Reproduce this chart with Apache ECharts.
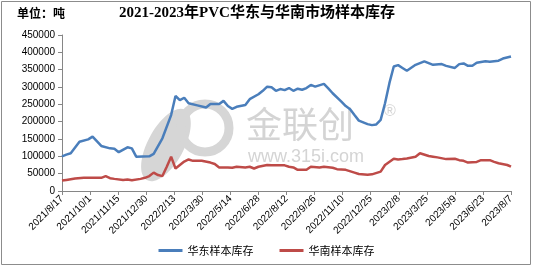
<!DOCTYPE html>
<html><head><meta charset="utf-8">
<script src="https://cdn.jsdelivr.net/npm/echarts@6/dist/echarts.min.js"></script>
<style>html,body{margin:0;padding:0;background:#fff}#c{width:533px;height:269px}</style>
</head><body><div id="c"></div>
<script>
const seriesNames = ['华东样本库存', '华南样本库存'];
const eastDates = ['2021-08-17','2021-08-24','2021-08-31','2021-09-14','2021-09-28','2021-10-05','2021-10-19','2021-11-02','2021-11-09','2021-11-16','2021-11-30','2021-12-07','2021-12-14','2022-01-04','2022-01-11','2022-01-25','2022-02-08','2022-02-15','2022-02-22','2022-03-01','2022-03-08','2022-03-22','2022-04-05','2022-04-12','2022-04-26','2022-05-03','2022-05-10','2022-05-17','2022-05-24','2022-06-07','2022-06-14','2022-06-28','2022-07-05','2022-07-12','2022-07-19','2022-07-26','2022-08-02','2022-08-09','2022-08-16','2022-08-23','2022-08-30','2022-09-06','2022-09-13','2022-09-20','2022-09-27','2022-10-11','2022-10-18','2022-10-25','2022-11-08','2022-11-15','2022-11-22','2022-11-29','2022-12-06','2022-12-20','2022-12-27','2023-01-03','2023-01-10','2023-01-17','2023-01-24','2023-01-31','2023-02-07','2023-02-14','2023-02-21','2023-03-07','2023-03-21','2023-04-04','2023-04-18','2023-04-25','2023-05-09','2023-05-16','2023-05-23','2023-05-30','2023-06-06','2023-06-13','2023-06-27','2023-07-04','2023-07-18','2023-07-25','2023-08-07'];
const eastValues = [100000,105000,109000,142000,149000,157000,130000,123000,122000,112000,126000,123000,99000,100000,107000,152000,219000,274000,262000,269000,253000,247000,241000,251000,251000,260000,245000,237000,243000,248000,265000,279000,289000,301000,299000,289000,294000,291000,297000,289000,295000,292000,297000,306000,301000,309000,296000,282000,258000,245000,236000,219000,203000,193000,190000,192000,205000,253000,311000,359000,363000,355000,347000,364000,374000,364000,366000,361000,355000,366000,368000,361000,361000,370000,374000,373000,376000,382000,388000];
const southDates = ['2021-08-17','2021-08-24','2021-09-07','2021-09-21','2021-10-05','2021-10-19','2021-10-26','2021-11-02','2021-11-09','2021-11-23','2021-11-30','2021-12-07','2021-12-21','2021-12-28','2022-01-04','2022-01-11','2022-01-18','2022-01-25','2022-02-01','2022-02-08','2022-02-15','2022-02-22','2022-03-01','2022-03-08','2022-03-15','2022-03-29','2022-04-12','2022-04-19','2022-04-26','2022-05-10','2022-05-17','2022-05-24','2022-06-07','2022-06-14','2022-06-21','2022-06-28','2022-07-12','2022-07-19','2022-08-02','2022-08-09','2022-08-16','2022-08-23','2022-08-30','2022-09-13','2022-09-20','2022-10-04','2022-10-11','2022-10-25','2022-11-01','2022-11-15','2022-11-29','2022-12-06','2022-12-20','2022-12-27','2023-01-10','2023-01-17','2023-01-31','2023-02-07','2023-02-14','2023-02-21','2023-03-07','2023-03-14','2023-03-28','2023-04-04','2023-04-11','2023-04-25','2023-05-09','2023-05-16','2023-05-23','2023-05-30','2023-06-13','2023-06-20','2023-07-04','2023-07-11','2023-07-18','2023-08-01','2023-08-07'];
const southValues = [30000,32000,36000,38000,38000,38000,43000,37000,35000,32000,33000,31000,35000,38000,43000,53000,46000,43000,70000,99000,65000,75000,85000,91000,87000,87000,82000,78000,68000,68000,67000,70000,68000,70000,65000,70000,75000,74000,74000,74000,70000,68000,61000,61000,70000,68000,70000,67000,63000,61000,53000,49000,47000,48000,56000,75000,93000,91000,92000,94000,99000,109000,101000,99000,97000,92000,93000,89000,87000,82000,84000,89000,89000,84000,80000,75000,70000];
const startDate = '2021-08-17';
const endDate = '2023-08-07';
const yMax = 450000, yStep = 50000, xStepDays = 45;

function toUTC(s){const p=s.split('-').map(Number);return Date.UTC(p[0],p[1]-1,p[2]);}
const t0 = toUTC(startDate);
const dayOf = s => Math.round((toUTC(s)-t0)/86400000);
function dayLabel(d){const dt=new Date(t0+d*86400000);return dt.getUTCFullYear()+'/'+(dt.getUTCMonth()+1)+'/'+dt.getUTCDate();}

const chart = echarts.init(document.getElementById('c'), null, {renderer:'canvas'});
const cjk = "'Noto Sans CJK SC', 'Noto Sans', sans-serif";
chart.setOption({
  animation:false,
  backgroundColor:'#fff',
  graphic:[
    {type:'rect', shape:{x:1.5,y:1.5,width:529,height:263}, style:{fill:'none',stroke:'#8c8c8c',lineWidth:1}, z:0},
    {type:'ellipse', shape:{cx:166,cy:145,rx:18,ry:40}, rotation:-0.5, originX:166, originY:145, style:{fill:'#d6d6d6'}, z:0},
    {type:'circle', shape:{cx:205,cy:128,r:24}, style:{fill:'none',stroke:'#d6d6d6',lineWidth:9}, z:0},
    {type:'text', x:246, y:106, style:{text:'金联创', font:"36px "+cjk, fill:'#d4d4d4'}, z:0},
    {type:'text', x:384, y:104, style:{text:'®', font:"16px 'Liberation Sans', sans-serif", fill:'#d4d4d4'}, z:0},
    {type:'text', x:248, y:148, style:{text:'www.315i.com', font:"18px 'Liberation Sans', sans-serif", fill:'#d4d4d4'}, z:0},
    {type:'text', x:17, y:7, style:{text:'单位：吨', font:"bold 12px "+cjk, fill:'#000'}, z:5},
    {type:'text', x:257, y:6, style:{text:'2021-2023年PVC华东与华南市场样本库存', font:"bold 15px 'Liberation Serif', "+cjk, fill:'#000', align:'center'}, z:5}
  ],
  grid:{left:62, right:22, top:35, bottom:78},
  legend:{
    bottom:8, left:'center', itemGap:26, itemWidth:24, itemHeight:3, icon:'rect',
    textStyle:{fontSize:11, color:'#000', fontFamily:cjk},
    data:seriesNames
  },
  xAxis:{
    type:'value', min:0, max:dayOf(endDate), interval:xStepDays,
    axisLine:{show:true, lineStyle:{color:'#868686', width:1}},
    axisTick:{show:true, length:4, lineStyle:{color:'#868686'}},
    splitLine:{show:false},
    axisLabel:{rotate:45, fontSize:10, color:'#000', margin:6, fontFamily:"'Liberation Sans', sans-serif", formatter:v=>dayLabel(v), showMinLabel:true, showMaxLabel:true}
  },
  yAxis:{
    type:'value', min:0, max:yMax, interval:yStep,
    axisLine:{show:true, lineStyle:{color:'#868686', width:1}},
    axisTick:{show:true, length:4, lineStyle:{color:'#868686'}},
    splitLine:{show:false},
    axisLabel:{fontSize:10, color:'#000', margin:7, fontFamily:"'Liberation Sans', sans-serif", formatter:v=>String(v)}
  },
  series:[
    {name:seriesNames[0], type:'line', showSymbol:false, symbol:'none', smooth:false,
     data:eastDates.map((d,i)=>[dayOf(d), eastValues[i]]),
     lineStyle:{color:'#4a7ebb', width:2.5}, itemStyle:{color:'#4a7ebb'}, z:3},
    {name:seriesNames[1], type:'line', showSymbol:false, symbol:'none', smooth:false,
     data:southDates.map((d,i)=>[dayOf(d), southValues[i]]),
     lineStyle:{color:'#be4b48', width:2.5}, itemStyle:{color:'#be4b48'}, z:3}
  ]
});
</script></body></html>
